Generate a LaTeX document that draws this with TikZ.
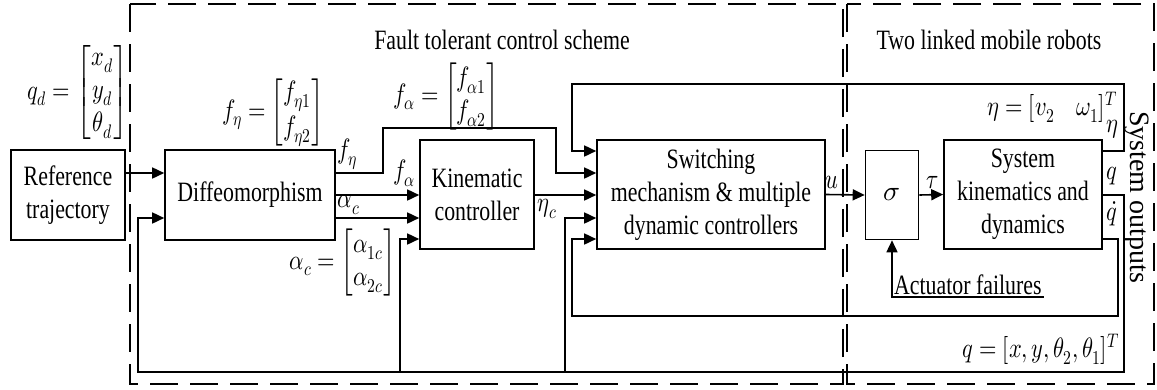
\documentclass[tikz,border=0pt]{standalone}
\usepackage{amsmath}
\usepackage{fontspec}
\usepackage{unicode-math}
\usepackage{tikz}
\usetikzlibrary{arrows.meta}
\setmainfont{Liberation Serif}[FakeStretch=0.78]
\setmathfont{Latin Modern Math}
\newfontfamily\plainfont{Liberation Serif}

\tikzset{
  blk/.style={draw, line width=1.6pt, align=center, inner sep=0pt},
  arr/.style={line width=1.6pt, -{Triangle[length=12pt,width=11pt]}},
  frame/.style={line width=1.6pt, dash pattern=on 28pt off 12pt},
  lab/.style={inner sep=1pt, xscale=0.8}
}

\begin{document}
\begin{tikzpicture}[x=1pt,y=-1pt,font=\fontsize{28}{33}\selectfont]

\useasboundingbox (0,0) rectangle (1157,389);

\draw[frame] (130,4) rectangle (843,384);
\draw[frame] (847,4) rectangle (1154,384);

\coordinate (yA) at (0,151);
\coordinate (yB) at (0,173);
\coordinate (yC) at (0,195);
\coordinate (yD) at (0,218);
\coordinate (yE) at (0,239);

\node[blk, minimum width=114pt, minimum height=90pt] (ref) at (68,195) {Reference\\trajectory};
\node[blk, minimum width=170pt, minimum height=90pt] (diffeo) at (250,195) {Diffeomorphism};
\node[blk, minimum width=114pt, minimum height=109pt] (kin) at (477,194.5) {Kinematic\\controller};
\node[blk, minimum width=228pt, minimum height=109pt] (sw) at (711,194.5) {Switching\\mechanism \& multiple\\dynamic controllers};
\node[blk, minimum width=53pt, minimum height=89pt] (sig) at (892,195) {$\sigma$};
\node[blk, minimum width=158pt, minimum height=109pt] (sys) at (1023,194.5) {System\\kinematics and\\dynamics};

\node (ftc) at (502,40) {Fault tolerant control scheme};
\node (robots) at (989,40) {Two linked mobile robots};
\node[rotate=-90, inner sep=0pt, font=\plainfont\fontsize{28}{32}\selectfont] (sysout) at (1137,197) {System outputs};

\node[lab, anchor=east] (qd) at (129,92) {$q_d=\begin{bmatrix}x_d\\y_d\\\theta_d\end{bmatrix}$};
\node[lab, anchor=east] (feta) at (324,112) {$f_\eta=\begin{bmatrix}f_{\eta1}\\f_{\eta2}\end{bmatrix}$};
\node[lab, anchor=east] (falpha) at (499,96) {$f_\alpha=\begin{bmatrix}f_{\alpha1}\\f_{\alpha2}\end{bmatrix}$};
\node[lab, anchor=east] (alphac) at (396,262) {$\alpha_c=\begin{bmatrix}\alpha_{1c}\\\alpha_{2c}\end{bmatrix}$};

\node[lab, anchor=south west] (lfeta) at (337,171) {$f_\eta$};
\node[lab, anchor=south east] (lfalpha) at (416,188) {$f_\alpha$};
\node[lab, anchor=south west] (lalphac) at (337,216) {$\alpha_c$};
\node[lab, anchor=north west] (letac) at (537,198) {$\eta_c$};
\node[lab, anchor=south west] (lu) at (825,190) {$u$};
\node[lab, anchor=south] (ltau) at (933,190) {$\tau$};
\node[lab, anchor=south east] (leta) at (1119,140) {$\eta$};
\node[lab] (lq) at (1112,176) {$q$};
\node[lab] (lqdot) at (1112,214) {$\dot q$};
\node[lab, anchor=east] (etadef) at (1118,107) {$\eta=[v_2\quad\omega_1]^T$};
\node[lab, anchor=east] (qdef) at (1120,349) {$q=[x,y,\theta_2,\theta_1]^T$};

\node[anchor=south west, inner sep=2pt] (act) at (sig.south |- 0,297) {Actuator failures};

\draw[arr] (ref.east |- yB) -- (diffeo.west |- yB);
\draw[arr] (diffeo.east |- yC) -- (kin.west |- yC);
\draw[arr] (diffeo.east |- yD) -- (kin.west |- yD);
\draw[arr] (diffeo.east |- yB) -- ++(47,0) |- (556,128) |- (sw.west |- yB);
\draw[arr] (kin.east |- yC) -- (sw.west |- yC);
\draw[arr] (sw.east) -- (sig.west);
\draw[arr] (sig.east) -- (sys.west);
\draw[arr] (act.south east) -- (act.south west) -- (sig.south);

\draw[arr] (sys.east |- yA) -- ++(21,0) |- (572,84) |- (sw.west |- yA);
\draw[arr] (sys.east |- yE) -- ++(15,0) |- (572,316) |- (sw.west |- yE);
\draw[arr] (sys.east |- yC) -- ++(21,0) |- (138,372) |- (diffeo.west |- yD);

\coordinate (fbk) at (400,372);
\coordinate (fbs) at (565,372);
\draw[arr] (fbk) |- (kin.west |- yE);
\draw[arr] (fbs) |- (sw.west |- yD);

\end{tikzpicture}
\end{document}
